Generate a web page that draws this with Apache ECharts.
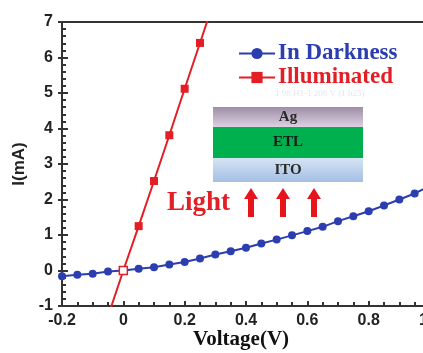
<!DOCTYPE html>
<html>
<head>
<meta charset="utf-8">
<script src="https://cdn.jsdelivr.net/npm/echarts@6/dist/echarts.min.js"></script>
<style>
html,body{margin:0;padding:0;background:#fff;}
#chart{width:423px;height:353px;}
</style>
</head>
<body>
<div id="chart"></div>
<script>
// ---- data ----
var darkVoltage = [-0.2,-0.15,-0.1,-0.05,0,0.05,0.1,0.15,0.2,0.25,0.3,0.35,0.4,0.45,0.5,0.55,0.6,0.65,0.7,0.75,0.8,0.85,0.9,0.95,1.0];
var darkCurrent = [-0.16,-0.12,-0.09,-0.03,0.0,0.05,0.09,0.17,0.24,0.34,0.45,0.54,0.64,0.76,0.87,0.99,1.11,1.23,1.39,1.53,1.67,1.83,2.0,2.17,2.38];
var lightVoltage = [-0.05,0,0.05,0.1,0.15,0.2,0.25,0.3];
var lightCurrent = [-1.29,0.0,1.25,2.52,3.81,5.12,6.41,7.7];
var seriesNames = ['In Darkness','Illuminated'];
var xTicks = {min:-0.2, max:1.0, interval:0.2};
var yTicks = {min:-1, max:7, interval:1};
var layerNames = ['Ag','ETL','ITO'];

var BLUE = '#2c3db0', RED = '#e31e24';

var darkData = darkVoltage.map(function(v,i){return [v, darkCurrent[i]];});
var lightData = lightVoltage.map(function(v,i){
  var c = lightCurrent[i];
  var item = {value:[v,c]};
  if (c < yTicks.min || c > yTicks.max) item.symbol = 'none';
  if (v === 0) item.itemStyle = {color:'#ffffff', borderColor:RED, borderWidth:1.5};
  return item;
});

function arrow(cx){
  var top=188,bot=217,hh=11,hw=7,sw=3;
  return {type:'polygon',shape:{points:[[cx,top],[cx+hw,top+hh],[cx+sw,top+hh],[cx+sw,bot],[cx-sw,bot],[cx-sw,top+hh],[cx-hw,top+hh]]},style:{fill:'#e8141c'}};
}

var chart = echarts.init(document.getElementById('chart'), null, {renderer:'canvas'});
chart.setOption({
  animation:false,
  backgroundColor:'#fff',
  grid:{left:62, right:-7, top:22, bottom:47, outerBoundsMode:'none', containLabel:false,
    show:true, borderColor:'#333', borderWidth:2, backgroundColor:'transparent'},
  legend:{
    orient:'vertical', left:233, top:37, itemWidth:36, itemHeight:14, itemGap:1,
    data:[
      {name:seriesNames[0], textStyle:{color:BLUE}},
      {name:seriesNames[1], textStyle:{color:RED}}
    ],
    textStyle:{fontFamily:'Liberation Serif', fontWeight:'bold', fontSize:23, padding:[0,0,0,-2]}
  },
  xAxis:[{
    type:'value', min:xTicks.min, max:xTicks.max, interval:xTicks.interval,
    axisLine:{onZero:false, lineStyle:{color:'#333', width:2}},
    axisTick:{inside:true, length:5, lineStyle:{color:'#333', width:2}},
    minorTick:{show:true, splitNumber:4, length:4, lineStyle:{color:'#333', width:2}},
    splitLine:{show:false},
    axisLabel:{margin:7, color:'#222', fontFamily:'Liberation Sans', fontWeight:'bold', fontSize:16,
      formatter:function(v){return Math.abs(v)<1e-9?'0':v.toFixed(1);}}
  }],
  yAxis:[{
    type:'value', min:yTicks.min, max:yTicks.max, interval:yTicks.interval,
    name:'I(mA)', nameLocation:'middle', nameGap:34, nameRotate:90,
    nameTextStyle:{fontFamily:'Liberation Sans', fontWeight:'bold', fontSize:17, color:'#222'},
    axisLine:{onZero:false, lineStyle:{color:'#333', width:2}},
    axisTick:{inside:true, length:6, lineStyle:{color:'#333', width:2}},
    minorTick:{show:true, splitNumber:5, length:4, lineStyle:{color:'#333', width:2}},
    splitLine:{show:false},
    axisLabel:{margin:9, color:'#222', fontFamily:'Liberation Sans', fontWeight:'bold', fontSize:16}
  },{
    type:'value', min:yTicks.min, max:yTicks.max, interval:yTicks.interval, position:'left',
    axisLine:{show:false, onZero:false},
    axisTick:{show:true, inside:false, length:4, lineStyle:{color:'#333', width:2}},
    splitLine:{show:false},
    axisLabel:{show:false}
  }],
  series:[{
    name:seriesNames[0], type:'line', data:darkData, clip:true,
    symbol:'circle', symbolSize:8,
    lineStyle:{color:BLUE, width:2}, itemStyle:{color:BLUE}
  },{
    name:seriesNames[1], type:'line', data:lightData, clip:true,
    symbol:'rect', symbolSize:8,
    lineStyle:{color:RED, width:2}, itemStyle:{color:RED}
  },{
    name:'_y2', type:'line', yAxisIndex:1, data:[], silent:true
  }],
  graphic:[
    {type:'text', left:193, top:329, style:{text:'Voltage(V)', font:'bold 21px "Liberation Serif"', fill:'#111'}},
    {type:'text', left:275, top:89, style:{text:'1 98 H1-1 208 V (1 h25)', font:'9px "Liberation Serif"', fill:'#e3e8ef'}},
    {type:'rect', shape:{x:213,y:107,width:150,height:20}, style:{fill:new echarts.graphic.LinearGradient(0,0,0,1,[{offset:0,color:'#9e8ea6'},{offset:1,color:'#dcd0e2'}])}},
    {type:'rect', shape:{x:213,y:127,width:150,height:31}, style:{fill:'#00b04f'}},
    {type:'rect', shape:{x:213,y:158,width:150,height:24}, style:{fill:new echarts.graphic.LinearGradient(0,0,0,1,[{offset:0,color:'#d6e3f3'},{offset:1,color:'#a3bfe4'}])}},
    {type:'text', x:288, y:117, style:{text:layerNames[0], font:'bold 15px "Liberation Serif"', fill:'#2a2a2a', align:'center', verticalAlign:'middle'}},
    {type:'text', x:288, y:142, style:{text:layerNames[1], font:'bold 15px "Liberation Serif"', fill:'#1a1a1a', align:'center', verticalAlign:'middle'}},
    {type:'text', x:288, y:170, style:{text:layerNames[2], font:'bold 15px "Liberation Serif"', fill:'#2a2a2a', align:'center', verticalAlign:'middle'}},
    {type:'text', left:167, top:190, style:{text:'Light', font:'bold 27px "Liberation Serif"', fill:'#e31e24'}},
    arrow(251), arrow(283), arrow(314)
  ]
});
</script>
</body>
</html>
